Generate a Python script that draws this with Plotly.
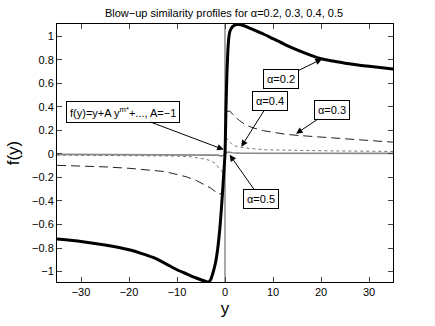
import plotly.graph_objects as go

# Blow-up similarity profiles f(y)
y_a02 = [-35, -30, -25, -20, -17.5, -15, -12.5, -10, -8, -6, -5, -4, -3.4, -3, -2.5, -2, -1.5, -1, -0.5, -0.25, 0,
         0.2, 0.4, 0.6, 0.8, 1, 1.5, 2, 2.5, 3, 4, 5, 6, 8, 10, 12.5, 15, 17.5, 20, 22.5, 25, 30, 35]
f_a02 = [-0.724, -0.745, -0.775, -0.815, -0.845, -0.88, -0.93, -0.985, -1.02, -1.055, -1.07, -1.085, -1.089, -1.07,
         -1.01, -0.93, -0.8, -0.6, -0.32, -0.16, 0,
         0.38, 0.68, 0.88, 0.99, 1.04, 1.08, 1.095, 1.1, 1.1, 1.09, 1.072, 1.055, 1.02, 0.98, 0.93, 0.885, 0.845,
         0.81, 0.79, 0.772, 0.745, 0.722]

y_a03 = [-35, -30, -25, -20, -15, -12.5, -10, -8, -6, -5, -4, -3, -2, -1.3, -0.6, -0.45, 0,
         0.17, 0.3, 1, 1.5, 2, 3, 4, 5, 6, 8, 10, 12.5, 15, 20, 25, 30, 35]
f_a03 = [-0.097, -0.103, -0.11, -0.122, -0.138, -0.15, -0.175, -0.195, -0.225, -0.245, -0.265, -0.29, -0.32, -0.345,
         -0.33, -0.28, 0,
         0.3, 0.36, 0.365, 0.34, 0.32, 0.285, 0.255, 0.235, 0.22, 0.198, 0.182, 0.168, 0.158, 0.142, 0.127, 0.113, 0.1]

y_a04 = [-35, -25, -15, -10, -7, -5, -4, -3, -2, -1.1, -0.3, 0, 0.1, 0.6, 1, 1.6, 2.5, 3.7, 5, 8.6, 15, 22, 35]
f_a04 = [-0.01, -0.012, -0.015, -0.018, -0.025, -0.035, -0.045, -0.058, -0.08, -0.13, -0.16, 0,
         0.15, 0.12, 0.1, 0.076, 0.063, 0.054, 0.047, 0.035, 0.029, 0.026, 0.021]

y_a05 = [-35, -10, -3, -1.5, -0.8, -0.3, 0, 0.3, 0.8, 1.5, 3, 10, 35]
f_a05 = [-0.004, -0.004, -0.006, -0.01, -0.018, -0.012, 0, 0.012, 0.015, 0.01, 0.007, 0.006, 0.005]

font = "Liberation Sans, Arial, Helvetica, sans-serif"

fig = go.Figure()
fig.add_trace(go.Scatter(x=y_a05, y=f_a05, mode='lines', line=dict(color='#8a8a8a', width=1.6)))
fig.add_trace(go.Scatter(x=y_a04, y=f_a04, mode='lines', line=dict(color='#777777', width=1, dash='dot')))
fig.add_trace(go.Scatter(x=y_a03, y=f_a03, mode='lines', line=dict(color='#222222', width=1, dash='9px,5px')))
fig.add_trace(go.Scatter(x=y_a02, y=f_a02, mode='lines', line=dict(color='black', width=3, shape='spline', smoothing=0.6)))

# vertical reference line at y=0
fig.add_shape(type='line', x0=0, x1=0, y0=0, y1=1, xref='x', yref='paper',
              line=dict(color='#8a8a8a', width=1.5), layer='below')

labels = [
    # text, head x, head y, ax, ay
    ("α=0.2", 20.2, 0.807, -41, 20),
    ("α=0.4", 3.4, 0.062, 29, -46),
    ("α=0.3", 14.8, 0.172, 36, -24),
    ("f(y)=y+A y<sup>m*</sup>+..., A=−1", -0.27, 0.037, -101, -38),
    ("α=0.5", 0.97, -0.007, 31, 44),
]
for txt, hx, hy, ax, ay in labels:
    fig.add_annotation(x=hx, y=hy, ax=ax, ay=ay, text=txt, showarrow=True,
                       arrowhead=2, arrowsize=1.3, arrowwidth=1, arrowcolor='black',
                       bgcolor='white', bordercolor='black', borderwidth=1, borderpad=3,
                       font=dict(family=font, size=11, color='black'))

fig.update_xaxes(range=[-35, 35], tickvals=[-30, -20, -10, 0, 10, 20, 30],
                 ticks='inside', ticklen=5, mirror='ticks', showline=True, linecolor='black', linewidth=1,
                 showgrid=False, zeroline=False, tickfont=dict(family=font, size=11, color='black'),
                 title=dict(text='y', font=dict(family=font, size=17, color='black'), standoff=4))
fig.update_yaxes(range=[-1.089, 1.105], tickvals=[-1, -0.8, -0.6, -0.4, -0.2, 0, 0.2, 0.4, 0.6, 0.8, 1],
                 ticktext=['−1', '−0.8', '−0.6', '−0.4', '−0.2', '0', '0.2', '0.4', '0.6', '0.8', '1'],
                 ticks='inside', ticklen=5, mirror='ticks', showline=True, linecolor='black', linewidth=1,
                 showgrid=False, zeroline=False, tickfont=dict(family=font, size=11, color='black'),
                 title=dict(text='f(y)', font=dict(family=font, size=17, color='black'), standoff=8))
fig.update_layout(
    width=435, height=326,
    margin=dict(l=57, r=42, t=24, b=37),
    paper_bgcolor='white', plot_bgcolor='white',
    showlegend=False,
    title=dict(text='Blow−up similarity profiles for α=0.2, 0.3, 0.4, 0.5', x=0.515, xanchor='center',
               y=0.96, yanchor='middle', font=dict(family=font, size=11, color='black')),
)
# drop the page's default body margin so the figure sits at the window's corner
fig.write_html("out.html", config={'displayModeBar': False},
               post_script="document.body.style.margin='0';")
